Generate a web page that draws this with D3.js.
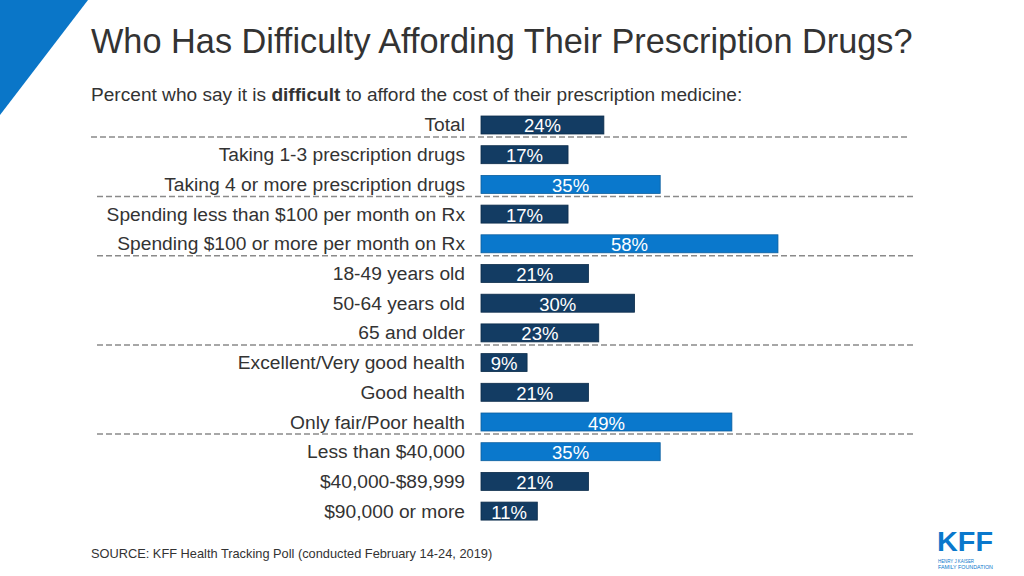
<!DOCTYPE html>
<html>
<head>
<meta charset="utf-8">
<script src="https://cdn.jsdelivr.net/npm/d3@7"></script>
<style>
  html, body { margin: 0; padding: 0; background: #fff; }
  svg { display: block; font-family: "Liberation Sans", Arial, Helvetica, sans-serif; }
</style>
</head>
<body>
<svg id="chart" width="1024" height="576"></svg>
<script>
const categories = [
  "Total",
  "Taking 1-3 prescription drugs",
  "Taking 4 or more prescription drugs",
  "Spending less than $100 per month on Rx",
  "Spending $100 or more per month on Rx",
  "18-49 years old",
  "50-64 years old",
  "65 and older",
  "Excellent/Very good health",
  "Good health",
  "Only fair/Poor health",
  "Less than $40,000",
  "$40,000-$89,999",
  "$90,000 or more"
];
const values = [24, 17, 35, 17, 58, 21, 30, 23, 9, 21, 49, 35, 21, 11];
const highlighted = [false, false, true, false, true, false, false, false, false, false, true, true, false, false];
const separatorsAfter = [0, 2, 4, 7, 10];
const title = "Who Has Difficulty Affording Their Prescription Drugs?";
const source = "SOURCE: KFF Health Tracking Poll (conducted February 14-24, 2019)";

const svg = d3.select("#chart");
const navy = "#133c63", blue = "#0a78cc";

// decorative triangle
svg.append("path").attr("d", "M0,0 L88,0 L0,115 Z").attr("fill", "#0a76c8");

svg.append("text").attr("x", 91).attr("y", 53)
  .attr("font-size", 34.3).attr("fill", "#333").text(title);

const sub = svg.append("text").attr("x", 91).attr("y", 101)
  .attr("font-size", 19.1).attr("fill", "#333");
sub.append("tspan").text("Percent who say it is ");
sub.append("tspan").attr("font-weight", "bold").text("difficult");
sub.append("tspan").text(" to afford the cost of their prescription medicine:");

const x = d3.scaleLinear().domain([0, 100]).range([481, 481 + 512]);
const y = d3.scaleBand().domain(categories).range([116, 520.1]).paddingInner(0.394).paddingOuter(0);

// separators
svg.selectAll("line.sep").data(separatorsAfter).join("line")
  .attr("class", "sep")
  .attr("x1", (d, i) => i === 0 ? 91 : 97)
  .attr("x2", (d, i) => i === 0 ? 910 : 916)
  .attr("y1", d => y(categories[d]) + y.bandwidth() + 3)
  .attr("y2", d => y(categories[d]) + y.bandwidth() + 3)
  .attr("stroke", "#8a8a8a").attr("stroke-width", 1.5).attr("stroke-dasharray", "6,3");

const rows = categories.map((c, i) => ({ c, v: values[i], h: highlighted[i] }));

svg.selectAll("rect.bar").data(rows).join("rect")
  .attr("class", "bar")
  .attr("x", x(0)).attr("y", d => y(d.c))
  .attr("width", d => x(d.v) - x(0)).attr("height", y.bandwidth())
  .attr("fill", d => d.h ? blue : navy)
  .attr("stroke", d => d.h ? "#0b5e9e" : "#0c2c4a").attr("stroke-width", 0.8);

svg.selectAll("text.val").data(rows).join("text")
  .attr("class", "val")
  .attr("x", d => (x(0) + x(d.v)) / 2)
  .attr("y", d => y(d.c) + y.bandwidth() / 2 + 7.5)
  .attr("text-anchor", "middle").attr("font-size", 18.5).attr("fill", "#fff")
  .text(d => d.v + "%");

svg.selectAll("text.cat").data(rows).join("text")
  .attr("class", "cat")
  .attr("x", 465)
  .attr("y", d => y(d.c) + y.bandwidth() / 2 + 6.5)
  .attr("text-anchor", "end").attr("font-size", 19.2).attr("fill", "#333")
  .text(d => d.c);

svg.append("text").attr("x", 91).attr("y", 558)
  .attr("font-size", 12.8).attr("fill", "#333").text(source);

// KFF logo
svg.append("text").attr("x", 937).attr("y", 551)
  .attr("font-size", 28).attr("font-weight", "bold").attr("fill", "#0a78cc")
  .attr("textLength", 56).attr("lengthAdjust", "spacingAndGlyphs").text("KFF");
svg.append("text").attr("x", 938).attr("y", 563)
  .attr("font-size", 5).attr("fill", "#0a78cc")
  .attr("textLength", 36).attr("lengthAdjust", "spacingAndGlyphs").text("HENRY J KAISER");
svg.append("text").attr("x", 938).attr("y", 569)
  .attr("font-size", 5).attr("fill", "#0a78cc")
  .attr("textLength", 55).attr("lengthAdjust", "spacingAndGlyphs").text("FAMILY FOUNDATION");
</script>
</body>
</html>
